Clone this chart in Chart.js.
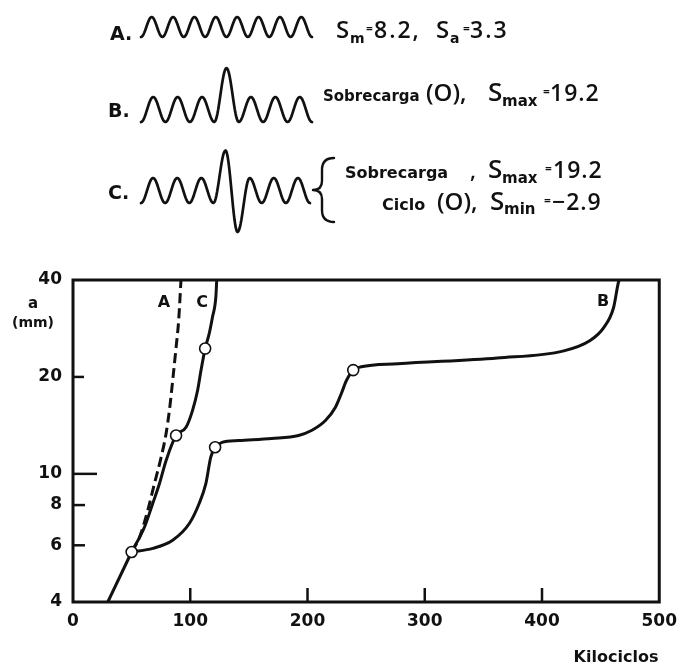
<!DOCTYPE html>
<html>
<head>
<meta charset="utf-8">
<script src="https://cdn.jsdelivr.net/npm/chart.js@4.4.1/dist/chart.umd.min.js"></script>
<style>
  html, body { margin: 0; padding: 0; background: #fff; }
  #wrap { width: 686px; height: 666px; }
</style>
</head>
<body>
<div id="wrap"><canvas id="c" width="686" height="666"></canvas></div>
<script>
// Crack growth: crack length a (mm) vs. kilocycles, three load histories
const xTicks = [0, 100, 200, 300, 400, 500];
const yTicks = [4, 6, 8, 10, 20, 40];

// common initial segment, up to the first overload
const startX = [29.7, 50];
const startY = [4, 5.72];

// A: constant amplitude (dashed)
const curveAX = [50, 56.8, 63.8, 69.5, 75.2, 79.4, 82.2, 85.0, 87.9, 90.1, 92.1];
const curveAY = [5.72, 6.36, 7.71, 9.34, 11.27, 13.35, 15.72, 19.46, 24.67, 29.9, 40];

// C: overload followed by a compressive cycle
const curveCX = [50, 61.0, 68.0, 73.7, 79.4, 87.9, 96.4, 101.9, 106.2, 109.1, 112.7, 116.1, 118.9, 121.8, 122.6];
const curveCY = [5.72, 6.84, 8.09, 9.32, 11.01, 13.16, 13.95, 15.72, 18.12, 20.9, 24.5, 27.2, 30.6, 35.3, 40];

// B: overload only
const curveBX = [50, 68.0, 85.0, 99.2, 107.6, 113.3, 117.5, 121.2, 127.1, 141.5, 169.5, 192.4, 203.4, 215.3, 223.7, 228.8, 233.1, 239, 245.8, 277.1, 361.9, 418.6, 440.7, 452.5, 461, 465.3, 466];
const curveBY = [5.72, 5.87, 6.22, 7.01, 8.09, 9.32, 11.27, 12.1, 12.52, 12.69, 12.88, 13.16, 13.63, 14.64, 16.07, 17.74, 19.46, 21.0, 21.5, 21.98, 22.9, 24.1, 25.9, 28.4, 32.8, 39.5, 40];

// overload points (O)
const overloadX = [50, 87.9, 112.7, 121.2, 239];
const overloadY = [5.72, 13.16, 24.5, 12.1, 21.0];

// load-history sketches: size of each cycle (up above / down below the trough line)
const waveA = [1, 1, 1, 1, 1, 1, 1, 1];
const waveB = [1, 1, 1, 2.16, 1, 1, 1];
const waveCUp = [1, 1, 1, 2.1, 1, 1, 1];
const waveCDown = [0, 0, 0, 1.16, 0, 0, 0];

const pts = (xs, ys) => xs.map((x, i) => ({ x: x, y: ys[i] }));
const INK = '#111';

function drawWave(ctx, x0, x1, trough, h, ups, downs) {
  const n = ups.length;
  const w = (x1 - x0) / n;
  const ext = [{ x: x0, y: trough }];
  for (let i = 0; i < n; i++) {
    ext.push({ x: x0 + w * (i + 0.5), y: trough - ups[i] * h });
    ext.push({ x: x0 + w * (i + 1), y: trough + (downs ? downs[i] : 0) * h });
  }
  ctx.beginPath();
  ctx.moveTo(ext[0].x, ext[0].y);
  for (let k = 1; k < ext.length; k++) {
    const a = ext[k - 1], b = ext[k];
    for (let s = 1; s <= 16; s++) {
      const t = s / 16;
      const e = (1 - Math.cos(Math.PI * t)) / 2;
      ctx.lineTo(a.x + (b.x - a.x) * t, a.y + (b.y - a.y) * e);
    }
  }
  ctx.stroke();
}

// each part: text, x, baseline y, font, optional letter spacing
function drawParts(ctx, parts) {
  parts.forEach(p => {
    ctx.font = p.f;
    if ('letterSpacing' in ctx) ctx.letterSpacing = (p.ls || 0) + 'px';
    ctx.fillText(p.t, p.x, p.y);
  });
  if ('letterSpacing' in ctx) ctx.letterSpacing = '0px';
}

const OS = (s) => '600 ' + s + 'px "Open Sans", sans-serif';
const DB = (s) => 'bold ' + s + 'px "DejaVu Sans", sans-serif';

const decorPlugin = {
  id: 'decor',
  afterDraw(chart) {
    const ctx = chart.ctx;
    const area = chart.chartArea;
    const xs = chart.scales.x, ys = chart.scales.y;
    ctx.save();
    ctx.strokeStyle = INK;
    ctx.fillStyle = INK;

    // frame
    ctx.lineWidth = 3;
    ctx.strokeRect(area.left, area.top, area.right - area.left, area.bottom - area.top);

    // inward tick marks
    ctx.lineWidth = 2.5;
    const yLen = { 6: 12, 8: 12, 10: 24, 20: 11 };
    yTicks.forEach(v => {
      if (!yLen[v]) return;
      const py = ys.getPixelForValue(v);
      ctx.beginPath(); ctx.moveTo(area.left, py); ctx.lineTo(area.left + yLen[v], py); ctx.stroke();
    });
    xTicks.forEach(v => {
      if (v === 0 || v === 500) return;
      const px = xs.getPixelForValue(v);
      ctx.beginPath(); ctx.moveTo(px, area.bottom); ctx.lineTo(px, area.bottom - 14); ctx.stroke();
    });

    // axis titles
    ctx.textAlign = 'center';
    ctx.textBaseline = 'middle';
    ctx.font = DB(15);
    ctx.fillText('a', 33, 304);
    ctx.font = DB(14);
    ctx.fillText('(mm)', 33, 323);
    ctx.font = DB(16);
    ctx.fillText('Kilociclos', 616, 658);

    // curve labels
    ctx.font = DB(16);
    ctx.fillText('A', 164, 303);
    ctx.fillText('C', 202, 303);
    ctx.fillText('B', 603, 302);

    // load-history sketches
    ctx.textAlign = 'left';
    ctx.textBaseline = 'alphabetic';
    ctx.lineWidth = 2.7;
    ctx.lineJoin = 'round';
    ctx.lineCap = 'round';
    ctx.font = DB(19);
    ctx.fillText('A.', 110, 40);
    ctx.fillText('B.', 108, 117);
    ctx.fillText('C.', 108, 199);
    drawWave(ctx, 141, 312, 37, 20, waveA, null);
    drawWave(ctx, 141, 312, 122, 25, waveB, null);
    drawWave(ctx, 141, 310, 203, 25, waveCUp, waveCDown);

    // brace
    ctx.lineWidth = 2.4;
    ctx.beginPath();
    ctx.moveTo(334, 158);
    ctx.quadraticCurveTo(322, 158, 322, 170);
    ctx.lineTo(322, 181);
    ctx.quadraticCurveTo(322, 190, 313, 190);
    ctx.quadraticCurveTo(322, 190, 322, 199);
    ctx.lineTo(322, 210);
    ctx.quadraticCurveTo(322, 222, 334, 222);
    ctx.stroke();

    // load descriptions
    drawParts(ctx, [
      { t: 'S', x: 336, y: 38, f: OS(24) },
      { t: 'm', x: 350, y: 43, f: DB(14) },
      { t: '=', x: 366, y: 33, f: OS(12) },
      { t: '8.2,', x: 374, y: 38, f: OS(23), ls: 2 },
      { t: 'S', x: 436, y: 38, f: OS(24) },
      { t: 'a', x: 450, y: 43, f: DB(14) },
      { t: '=', x: 463, y: 33, f: OS(12) },
      { t: '3.3', x: 470, y: 38, f: OS(23), ls: 2 }
    ]);
    drawParts(ctx, [
      { t: 'Sobrecarga', x: 323, y: 101, f: DB(15) },
      { t: '(O),', x: 426, y: 101, f: OS(24) },
      { t: 'S', x: 488, y: 101, f: OS(26) },
      { t: 'max', x: 502, y: 106, f: DB(15) },
      { t: '=', x: 543, y: 96, f: OS(12) },
      { t: '19.2', x: 550, y: 101, f: OS(23), ls: 1 }
    ]);
    drawParts(ctx, [
      { t: 'Sobrecarga', x: 345, y: 178, f: DB(16) },
      { t: ',', x: 470, y: 178, f: OS(22) },
      { t: 'S', x: 488, y: 178, f: OS(26) },
      { t: 'max', x: 502, y: 183, f: DB(15) },
      { t: '=', x: 545, y: 173, f: OS(12) },
      { t: '19.2', x: 553, y: 178, f: OS(23), ls: 1 }
    ]);
    drawParts(ctx, [
      { t: 'Ciclo', x: 382, y: 210, f: DB(16) },
      { t: '(O),', x: 437, y: 210, f: OS(24) },
      { t: 'S', x: 490, y: 210, f: OS(26) },
      { t: 'min', x: 504, y: 214, f: DB(15) },
      { t: '=', x: 544, y: 205, f: OS(12) },
      { t: '\u22122.9', x: 552, y: 210, f: OS(23), ls: 1 }
    ]);
    ctx.restore();
  }
};

const lineStyle = {
  borderColor: INK,
  borderWidth: 3,
  pointRadius: 0,
  fill: false,
  cubicInterpolationMode: 'monotone'
};

new Chart(document.getElementById('c'), {
  type: 'line',
  data: {
    datasets: [
      Object.assign({}, lineStyle, { label: 'inicio', data: pts(startX, startY), cubicInterpolationMode: 'default', tension: 0 }),
      Object.assign({}, lineStyle, { label: 'A', data: pts(curveAX, curveAY), borderDash: [10, 5], borderCapStyle: 'butt' }),
      Object.assign({}, lineStyle, { label: 'C', data: pts(curveCX, curveCY) }),
      Object.assign({}, lineStyle, { label: 'B', data: pts(curveBX, curveBY) }),
      {
        label: 'Sobrecarga',
        type: 'scatter',
        order: -1,
        data: pts(overloadX, overloadY),
        pointRadius: 5.5,
        pointBackgroundColor: '#fff',
        pointBorderColor: INK,
        pointBorderWidth: 1.6,
        showLine: false
      }
    ]
  },
  options: {
    responsive: false,
    animation: false,
    devicePixelRatio: 1,
    layout: { padding: { top: 280, right: 23, left: 0, bottom: 0 } },
    plugins: { legend: { display: false }, tooltip: { enabled: false } },
    scales: {
      x: {
        type: 'linear',
        min: 0,
        max: 500,
        afterBuildTicks: (s) => { s.ticks = xTicks.map(v => ({ value: v })); },
        afterFit: (s) => { s.height = 64; },
        grid: { display: false, drawTicks: false },
        border: { display: false },
        ticks: { color: INK, font: { family: '"DejaVu Sans", sans-serif', weight: 'bold', size: 17 }, padding: 9, maxRotation: 0 }
      },
      y: {
        type: 'logarithmic',
        min: 4,
        max: 40,
        afterBuildTicks: (s) => { s.ticks = yTicks.map(v => ({ value: v })); },
        afterFit: (s) => { s.width = 73; },
        grid: { display: false, drawTicks: false },
        border: { display: false },
        ticks: { color: INK, font: { family: '"DejaVu Sans", sans-serif', weight: 'bold', size: 17 }, padding: 11, callback: (v) => String(v) }
      }
    }
  },
  plugins: [decorPlugin]
});
</script>
</body>
</html>
